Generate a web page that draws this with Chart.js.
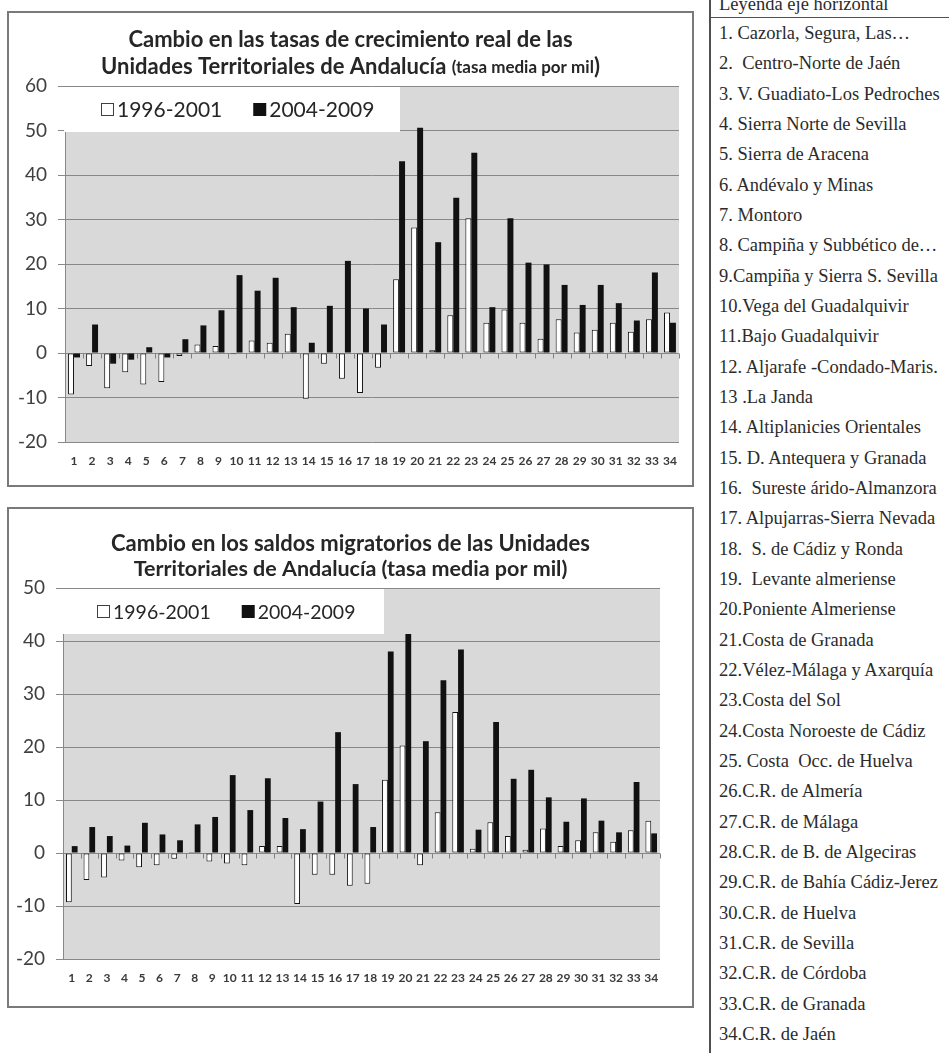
<!DOCTYPE html>
<html><head><meta charset="utf-8">
<script src="https://cdn.jsdelivr.net/npm/chart.js@4.4.1/dist/chart.umd.min.js"></script>
<style>
html,body{margin:0;padding:0;background:#fff}
body{width:949px;height:1053px;overflow:hidden;position:relative}
.box{position:absolute;border:2px solid #7a7a7a;background:#fff}
#b1{left:7px;top:11px;width:683px;height:472px}
#b2{left:7px;top:507px;width:683px;height:497px}
canvas{display:block}
#tbl{position:absolute;left:709px;top:-12px;width:260px;height:1090px;border-left:2px solid #505050;
 font-family:"Liberation Serif","Times New Roman",serif;font-size:18.5px;color:#2b2b2b}
#tbl .hd{height:29px;line-height:32px;border-bottom:1px solid #505050;padding-left:8px;white-space:pre}
#tbl .r{height:30.33px;line-height:30.33px;padding-left:8px;white-space:pre}
</style></head>
<body>
<div class="box" id="b1"><canvas id="c1" width="683" height="472"></canvas></div>
<div class="box" id="b2"><canvas id="c2" width="683" height="497"></canvas></div>
<div id="tbl"></div>
<script>
// ---- data ----
const categories = ['1','2','3','4','5','6','7','8','9','10','11','12','13','14','15','16','17','18','19','20','21','22','23','24','25','26','27','28','29','30','31','32','33','34'];
const seriesLabels = ['1996-2001','2004-2009'];
const crecimiento1996 = [-9.3,-2.9,-7.9,-4.3,-7.1,-6.5,-0.7,1.9,1.6,-0.3,2.8,2.3,4.3,-10.3,-2.4,-5.8,-9.0,-3.3,16.6,28.2,0.6,8.5,30.3,6.8,9.8,6.8,3.2,7.6,4.6,5.2,6.8,4.8,7.6,9.1];
const crecimiento2004 = [-1.0,6.4,-2.4,-1.5,1.3,-1.0,3.1,6.2,9.6,17.5,14.0,16.9,10.3,2.3,10.6,20.7,10.0,6.4,43.1,50.6,24.9,34.9,45.0,10.3,30.3,20.3,19.9,15.3,10.8,15.3,11.2,7.3,18.1,6.8];
const migratorio1996 = [-9.3,-5.1,-4.6,-1.4,-2.7,-2.3,-1.1,0.2,-1.6,-2.0,-2.3,1.3,1.3,-9.6,-4.1,-4.1,-6.2,-5.8,13.8,20.3,-2.3,7.7,26.6,0.8,5.8,3.2,0.6,4.6,1.3,2.4,3.9,2.1,4.3,6.1];
const migratorio2004 = [1.3,4.9,3.2,1.4,5.7,3.5,2.4,5.4,6.8,14.7,8.1,14.1,6.6,4.5,9.7,22.8,13.0,4.9,38.0,41.3,21.1,32.6,38.4,4.4,24.7,14.0,15.7,10.5,5.9,10.3,6.1,3.9,13.4,3.7];
const unidades = ['1. Cazorla, Segura, Las…','2.  Centro-Norte de Jaén','3. V. Guadiato-Los Pedroches','4. Sierra Norte de Sevilla','5. Sierra de Aracena','6. Andévalo y Minas','7. Montoro','8. Campiña y Subbético de…','9.Campiña y Sierra S. Sevilla','10.Vega del Guadalquivir','11.Bajo Guadalquivir','12. Aljarafe -Condado-Maris.','13 .La Janda','14. Altiplanicies Orientales','15. D. Antequera y Granada','16.  Sureste árido-Almanzora','17. Alpujarras-Sierra Nevada','18.  S. de Cádiz y Ronda','19.  Levante almeriense','20.Poniente Almeriense','21.Costa de Granada','22.Vélez-Málaga y Axarquía','23.Costa del Sol','24.Costa Noroeste de Cádiz','25. Costa  Occ. de Huelva','26.C.R. de Almería','27.C.R. de Málaga','28.C.R. de B. de Algeciras','29.C.R. de Bahía Cádiz-Jerez','30.C.R. de Huelva','31.C.R. de Sevilla','32.C.R. de Córdoba','33.C.R. de Granada','34.C.R. de Jaén'];
const tableTitle = 'Leyenda eje horizontal';

// ---- table ----
const tbl = document.getElementById('tbl');
const hd = document.createElement('div'); hd.className='hd'; hd.textContent = tableTitle; tbl.appendChild(hd);
unidades.forEach(u=>{const d=document.createElement('div');d.className='r';d.textContent=u;tbl.appendChild(d);});

const FONT = 'Lato, "Open Sans", sans-serif';

const bgPlugin = {
  id:'plotBg',
  beforeDraw(chart){
    const a=chart.chartArea, c=chart.ctx;
    c.save(); c.fillStyle='#d9d9d9'; c.fillRect(a.left,a.top,a.right-a.left,a.bottom-a.top); c.restore();
  }
};

const decoPlugin = {
  id:'deco',
  afterDatasetsDraw(chart, args, opts){
    const a=chart.chartArea, c=chart.ctx, xs=chart.scales.x, ys=chart.scales.y;
    // zero-line tick marks at category boundaries
    const y0 = Math.round(ys.getPixelForValue(0))+0.5;
    c.save(); c.strokeStyle='#808080'; c.lineWidth=1;
    for(let i=0;i<=categories.length;i++){
      const x = Math.round(xs.getPixelForValue(i-0.5))+0.5;
      c.beginPath(); c.moveTo(x,y0); c.lineTo(x,y0+5); c.stroke();
    }
    c.restore();
    // legend box
    const L = opts.legend;
    c.save();
    c.fillStyle='#ffffff';
    c.fillRect(a.left-1, a.top+1, L.right - a.left + 1, L.h);
    c.font = L.size+'px '+FONT; c.textBaseline='middle'; c.textAlign='left';
    const cy = a.top + 1 + L.h/2;
    let x = a.left + L.x0;
    chart.data.datasets.forEach((ds,i)=>{
      const m = L.marker;
      if(i===0){ c.fillStyle='#fff'; c.fillRect(x+0.5,cy-m/2+0.5,m-1,m-1); c.strokeStyle='#404040'; c.lineWidth=1; c.strokeRect(x+0.5,cy-m/2+0.5,m-1,m-1); }
      else { c.fillStyle='#111'; c.fillRect(x,cy-m/2,m,m); }
      x += m + L.gap;
      c.fillStyle='#262626';
      c.fillText(ds.label, x, cy+1);
      x += c.measureText(ds.label).width + L.between;
    });
    c.restore();
  },
  afterDraw(chart, args, opts){
    const c=chart.ctx, W=chart.width;
    c.save(); c.fillStyle='#262626'; c.textBaseline='middle'; c.textAlign='left';
    opts.title.forEach(line=>{
      let tw=0;
      line.segs.forEach(s=>{c.font='bold '+s.size+'px '+FONT; tw+=c.measureText(s.t).width;});
      let x = W/2 - tw/2;
      line.segs.forEach(s=>{c.font='bold '+s.size+'px '+FONT; c.fillText(s.t,x,line.y + (s.dy||0)); x+=c.measureText(s.t).width;});
    });
    c.restore();
  }
};

function makeChart(id, cfg){
  return new Chart(document.getElementById(id), {
    type:'bar',
    data:{ labels:categories, datasets:[
      {label:seriesLabels[0], data:cfg.a, backgroundColor:'#ffffff', borderColor:'#111111', borderWidth:1, borderSkipped:false},
      {label:seriesLabels[1], data:cfg.b, backgroundColor:'#111111', borderColor:'#111111', borderWidth:0}
    ]},
    options:{
      responsive:false, animation:false, devicePixelRatio:1,
      categoryPercentage:0.66, barPercentage:1.0,
      layout:{padding:{top:cfg.top,right:cfg.right,left:0,bottom:0}},
      plugins:{ legend:{display:false}, title:{display:false}, tooltip:{enabled:false},
        deco:{ legend:cfg.legend, title:cfg.title } },
      scales:{
        x:{ grid:{display:false,drawTicks:false}, border:{display:false},
            ticks:{color:'#3a3a3a',font:{family:FONT,size:12,weight:'bold'},padding:cfg.xPad,autoSkip:false,maxRotation:0,minRotation:0},
            afterFit(s){s.height=cfg.xH;} },
        y:{ min:cfg.min, max:cfg.max,
            ticks:{stepSize:10,color:'#404040',font:{family:FONT,size:19},padding:11},
            grid:{color:'#888888',lineWidth:1,tickLength:7,drawTicks:true},
            border:{display:true,color:'#888888'},
            afterFit(s){s.width=cfg.yW;} }
      }
    },
    plugins:[bgPlugin, decoPlugin]
  });
}

makeChart('c1',{
  a:crecimiento1996, b:crecimiento2004, min:-20, max:60,
  top:73, right:13, yW:56, xH:43, xPad:12,
  legend:{x0:36, right:391, h:45, size:21, marker:13, gap:3, between:31},
  title:[
    {y:27, segs:[{t:'Cambio en las tasas de crecimiento real de las', size:22}]},
    {y:54, segs:[{t:'Unidades Territoriales de Andalucía ', size:22},{t:'(tasa media por mil', size:17, dy:1},{t:')', size:22}]}
  ]
});
makeChart('c2',{
  a:migratorio1996, b:migratorio2004, min:-20, max:50,
  top:79, right:32, yW:54, xH:47, xPad:12,
  legend:{x0:34, right:375, h:45, size:19.5, marker:13, gap:3, between:31},
  title:[
    {y:35, segs:[{t:'Cambio en los saldos migratorios de las Unidades', size:22}]},
    {y:60, segs:[{t:'Territoriales de Andalucía (tasa media por mil)', size:21.5}]}
  ]
});
</script>
</body></html>
